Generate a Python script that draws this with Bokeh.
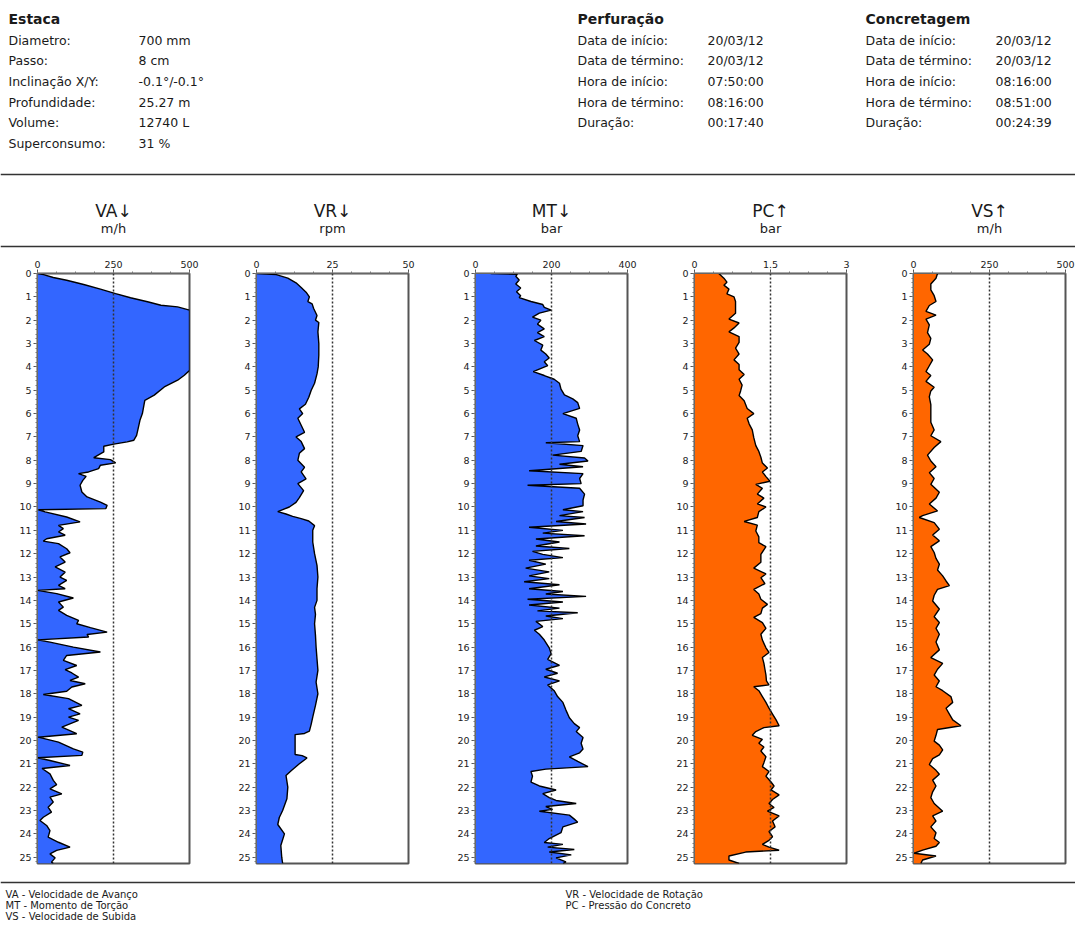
from bokeh.plotting import figure
from bokeh.models import Range1d, Span, FixedTicker
from bokeh.layouts import column, row
from bokeh.embed import file_html
from bokeh.resources import INLINE
from bokeh.core.properties import value

FONT = "DejaVu Sans"
TXT = "#1a1a1a"
BLUE = "#3366FF"
ORANGE = "#FF6600"

# ---------------- header texts ----------------
estaca_title = "Estaca"
estaca_labels = ["Diametro:", "Passo:", "Inclinação X/Y:", "Profundidade:", "Volume:", "Superconsumo:"]
estaca_values = ["700 mm", "8 cm", "-0.1°/-0.1°", "25.27 m", "12740 L", "31 %"]
perf_title = "Perfuração"
perf_labels = ["Data de início:", "Data de término:", "Hora de início:", "Hora de término:", "Duração:"]
perf_values = ["20/03/12", "20/03/12", "07:50:00", "08:16:00", "00:17:40"]
conc_title = "Concretagem"
conc_labels = ["Data de início:", "Data de término:", "Hora de início:", "Hora de término:", "Duração:"]
conc_values = ["20/03/12", "20/03/12", "08:16:00", "08:51:00", "00:24:39"]

legend_left = ["VA - Velocidade de Avanço", "MT - Momento de Torção", "VS - Velocidade de Subida"]
legend_right = ["VR - Velocidade de Rotação", "PC - Pressão do Concreto"]

DEPTH_MAX = 25.27

# ---------------- series ----------------
va_depth = [0, 0.05, 0.17, 0.29, 0.47, 0.67, 0.86, 1.04, 1.21, 1.36, 1.43, 1.57, 4.0, 4.15, 4.36, 4.57, 4.86,
            5.21, 5.43, 5.57, 6.0, 6.29, 6.64, 6.93, 7.14, 7.21, 7.31, 7.4, 7.64, 7.89, 7.97, 8.11, 8.21, 8.36,
            8.5, 8.57, 8.69, 8.86, 9.07, 9.36, 9.57, 9.79, 9.93, 10.07, 10.12, 10.21, 10.43, 10.64, 10.79,
            10.93, 11.07, 11.21, 11.36, 11.46, 11.57, 11.79, 11.96, 12.14, 12.36, 12.57, 12.79, 13.0, 13.14,
            13.36, 13.5, 13.57, 13.71, 13.9, 14.07, 14.29, 14.43, 14.64, 14.86, 15.0, 15.17, 15.36, 15.46,
            15.57, 15.69, 15.79, 16.0, 16.21, 16.36, 16.57, 16.79, 16.97, 17.11, 17.29, 17.43, 17.57, 17.71,
            17.89, 18.03, 18.21, 18.5, 18.64, 18.86, 19.0, 19.14, 19.43, 19.71, 19.86, 20.07, 20.36, 20.5,
            20.64, 20.74, 20.86, 21.07, 21.2, 21.43, 21.71, 21.89, 22.07, 22.29, 22.43, 22.64, 22.86, 23.07,
            23.29, 23.43, 23.64, 23.86, 24.14, 24.36, 24.57, 24.71, 24.86, 25.03, 25.21, 25.27]
va_values = [0, 20, 52, 96, 152, 207, 257, 306, 362, 406, 461, 500, 500, 500, 483, 461, 417,
             384, 353, 351, 345, 337, 331, 326, 317, 295, 251, 218, 218, 185, 240, 257, 207, 201,
             168, 135, 160, 149, 140, 146, 163, 207, 229, 225, 3, 25, 96, 140, 69,
             85, 69, 91, 30, 19, 69, 96, 107, 74, 91, 58, 91, 74, 96,
             69, 91, 0, 63, 118, 69, 85, 69, 96, 135, 129, 174, 229, 163,
             168, 0, 41, 118, 207, 96, 85, 129, 91, 113, 135, 107, 157, 113,
             96, 19, 102, 146, 102, 140, 102, 135, 80, 129, 2, 69, 118, 149,
             146, 0, 41, 107, 15, 41, 52, 63, 41, 80, 41, 52, 35, 46,
             19, 8, 30, 41, 35, 69, 107, 63, 41, 58, 46, 52]

vr_depth = [0, 0.05, 0.2, 0.4, 0.6, 0.8, 1.0, 1.2, 1.3, 1.5, 1.8, 2.0, 2.1, 2.5, 3.0, 3.5, 4.0, 4.3, 4.7, 5.0,
            5.3, 5.6, 5.8, 6.0, 6.2, 6.5, 6.8, 7.0, 7.2, 7.5, 7.7, 8.0, 8.3, 8.5, 8.8, 9.0, 9.3, 9.6, 9.8, 10.0,
            10.2, 10.3, 10.4, 10.5, 10.6, 10.8, 11.0, 11.5, 12.0, 12.5, 13.0, 13.5, 14.0, 14.3, 14.6, 15.0,
            15.5, 16.0, 16.5, 17.0, 17.5, 18.0, 18.5, 19.0, 19.3, 19.6, 19.7, 19.75, 20.6, 20.65, 20.75, 21.0,
            21.3, 21.5, 22.0, 22.5, 23.0, 23.3, 23.6, 24.0, 24.5, 25.0, 25.27]
vr_values = [0, 6.5, 10.3, 13, 14.7, 16.3, 17.4, 16.9, 18.3, 18.8, 19.9, 19.4, 20.5, 20.2, 20.5, 20.5, 20.3, 19.9, 19.1, 18,
             17.2, 16.1, 14.1, 15.2, 13.6, 14.7, 15.8, 13, 14.7, 15.8, 14.1, 13.6, 15.8, 14.7, 16.3, 13.6, 15.5, 14.1, 13, 10.8,
             7, 9.7, 11.9, 14.7, 17.2, 19.1, 18.5, 18.5, 19.1, 19.9, 20.2, 19.9, 19.9, 19.1, 19.4, 19.1,
             19.4, 19.6, 19.9, 20.2, 19.6, 20.2, 19.4, 18.5, 18, 17.4, 15.8, 12.7, 12.7, 15, 16.6, 14.1,
             11.4, 9.7, 10.3, 10, 8.6, 7.5, 7, 9.2, 8, 8.3, 8.6]

mt_depth = [0, 0.03, 0.12, 0.28, 0.45, 0.62, 0.78, 0.95, 1.03, 1.2, 1.33, 1.45, 1.57, 1.7, 1.87, 2.0, 2.17, 2.37,
            2.53, 2.7, 2.87, 3.07, 3.28, 3.45, 3.62, 3.78, 3.95, 4.2, 4.37, 4.53, 4.7, 4.95, 5.2, 5.37, 5.53, 5.78,
            6.0, 6.2, 6.45, 6.7, 6.95, 7.2, 7.25, 7.37, 7.62, 7.78, 7.9, 8.03, 8.17, 8.28, 8.45, 8.57, 8.78, 9.0,
            9.07, 9.2, 9.45, 9.7, 9.95, 10.12, 10.2, 10.37, 10.45, 10.62, 10.73, 10.87, 11.0, 11.12, 11.23,
            11.37, 11.5, 11.67, 11.78, 11.9, 12.03, 12.17, 12.28, 12.45, 12.62, 12.78, 12.95, 13.07, 13.2,
            13.33, 13.5, 13.62, 13.73, 13.83, 13.95, 14.07, 14.2, 14.33, 14.45, 14.53, 14.67, 14.78, 14.9,
            15.12, 15.28, 15.45, 15.7, 16.03, 16.28, 16.53, 16.78, 16.95, 17.12, 17.28, 17.45, 17.62, 17.87,
            18.12, 18.37, 18.7, 19.03, 19.28, 19.45, 19.62, 19.87, 20.12, 20.37, 20.53, 20.7, 20.9, 21.12,
            21.23, 21.33, 21.53, 21.78, 21.95, 22.12, 22.28, 22.45, 22.57, 22.7, 22.83, 22.95, 23.03, 23.2,
            23.37, 23.5, 23.7, 23.95, 24.2, 24.37, 24.45, 24.57, 24.67, 24.78, 24.9, 25.03, 25.2, 25.27]
mt_values = [40, 110, 106, 115, 106, 119, 108, 119, 115, 146, 177, 181, 199, 168, 150, 172, 163, 181,
             163, 181, 155, 177, 172, 185, 194, 181, 190, 152, 181, 207, 221, 225, 234, 256, 269, 274,
             230, 265, 269, 274, 269, 274, 185, 283, 278, 203, 287, 296, 221, 283, 141, 283, 274, 278,
             137, 274, 287, 283, 283, 230, 283, 221, 287, 212, 291, 141, 230, 177, 287,
             159, 221, 159, 247, 150, 177, 230, 141, 185, 132, 194, 141, 194, 128,
             221, 141, 230, 185, 291, 137, 230, 141, 221, 163, 269, 185, 230, 159,
             177, 155, 168, 181, 194, 199, 190, 221, 185, 216, 181, 221, 190, 207,
             216, 230, 238, 247, 260, 274, 265, 283, 278, 283, 274, 247, 269, 296,
             185, 146, 150, 146, 168, 212, 177, 194, 212, 265, 185, 203, 168, 247,
             260, 269, 230, 225, 194, 181, 230, 190, 260, 194, 252, 212, 238, 230]

pc_depth = [0, 0.2, 0.37, 0.5, 0.67, 0.87, 1.0, 1.2, 1.7, 1.95, 2.12, 2.33, 2.5, 2.7, 2.95, 3.2, 3.45, 3.7, 3.9,
            4.12, 4.33, 4.53, 4.78, 5.03, 5.23, 5.45, 5.78, 6.0, 6.2, 6.45, 6.7, 7.03, 7.37, 7.62, 7.87, 8.12,
            8.33, 8.5, 8.7, 8.9, 9.03, 9.2, 9.45, 9.62, 9.87, 10.0, 10.2, 10.45, 10.62, 10.78, 11.03, 11.28,
            11.53, 11.7, 12.03, 12.37, 12.62, 12.87, 13.03, 13.28, 13.53, 13.73, 13.95, 14.17, 14.33, 14.57,
            14.73, 14.95, 15.2, 15.45, 15.7, 16.03, 16.23, 16.45, 16.7, 16.95, 17.2, 17.45, 17.62, 17.7,
            17.87, 18.12, 18.37, 18.62, 18.87, 19.12, 19.37, 19.45, 19.62, 19.78, 19.95, 20.12, 20.28, 20.45,
            20.7, 20.95, 21.12, 21.33, 21.53, 21.78, 21.95, 22.12, 22.33, 22.53, 22.7, 22.87, 23.03, 23.23,
            23.45, 23.7, 23.9, 24.12, 24.28, 24.45, 24.57, 24.7, 24.78, 24.95, 25.12, 25.27]
pc_values = [0.48, 0.58, 0.64, 0.58, 0.68, 0.64, 0.78, 0.81, 0.81, 0.68, 0.88, 0.78, 0.68, 0.88, 0.88, 0.81, 0.88, 0.78, 0.88,
             0.88, 0.98, 0.88, 0.94, 0.91, 0.88, 0.98, 1.04, 1.17, 1.04, 1.08, 1.14, 1.17, 1.21, 1.27, 1.31, 1.34,
             1.44, 1.34, 1.41, 1.49, 1.21, 1.34, 1.24, 1.37, 1.24, 1.41, 1.27, 1.24, 0.98, 1.24, 1.21, 1.27,
             1.27, 1.41, 1.31, 1.31, 1.17, 1.41, 1.31, 1.39, 1.17, 1.27, 1.31, 1.44, 1.34, 1.31,
             1.17, 1.34, 1.41, 1.31, 1.34, 1.41, 1.47, 1.34, 1.37, 1.39, 1.41, 1.42, 1.47, 1.17,
             1.27, 1.34, 1.41, 1.47, 1.54, 1.61, 1.67, 1.37, 1.21, 1.14, 1.34, 1.27, 1.37, 1.31,
             1.41, 1.37, 1.34, 1.47, 1.41, 1.51, 1.57, 1.51, 1.67, 1.54, 1.47, 1.57, 1.44, 1.67,
             1.54, 1.59, 1.47, 1.54, 1.47, 1.34, 1.47, 1.67, 1.01, 0.68, 0.68, 0.88]

vs_depth = [0, 0.2, 0.45, 0.7, 0.95, 1.2, 1.37, 1.62, 1.78, 1.95, 2.2, 2.53, 2.78, 3.03, 3.28, 3.45, 3.7, 3.95,
            4.2, 4.37, 4.62, 4.87, 5.03, 5.28, 5.62, 6.03, 6.37, 6.7, 6.95, 7.2, 7.45, 7.78, 8.03, 8.28, 8.53,
            8.78, 9.03, 9.37, 9.62, 9.87, 10.17, 10.37, 10.45, 10.67, 10.95, 11.2, 11.45, 11.7, 11.95, 12.2,
            12.45, 12.7, 12.95, 13.17, 13.37, 13.53, 13.78, 14.03, 14.37, 14.7, 14.95, 15.2, 15.45, 15.78,
            16.12, 16.45, 16.7, 16.95, 17.2, 17.45, 17.7, 17.87, 18.12, 18.37, 18.62, 18.87, 19.12, 19.37,
            19.53, 19.78, 20.03, 20.2, 20.4, 20.62, 20.78, 21.03, 21.28, 21.45, 21.7, 21.95, 22.2, 22.45,
            22.7, 23.03, 23.23, 23.45, 23.7, 23.95, 24.2, 24.37, 24.53, 24.7, 24.83, 24.95, 25.12, 25.27]
vs_values = [79, 74, 57, 57, 68, 74, 52, 41, 74, 41, 52, 46, 57, 52, 30, 46, 63, 52,
             41, 57, 41, 68, 57, 52, 57, 57, 57, 68, 57, 90, 68, 46, 57, 74, 52,
             68, 57, 85, 74, 52, 79, 30, 19, 68, 85, 63, 85, 57, 68, 74,
             85, 79, 96, 107, 118, 79, 68, 63, 85, 68, 85, 74, 85, 74,
             85, 57, 96, 79, 68, 85, 74, 96, 123, 129, 107, 118, 129, 156,
             79, 74, 68, 85, 96, 85, 63, 52, 74, 85, 63, 74, 63, 57,
             68, 96, 63, 74, 57, 74, 68, 85, 74, 30, 2, 74, 30, 24]

panel_names = ["VA↓", "VR↓", "MT↓", "PC↑", "VS↑"]
panel_units = ["m/h", "rpm", "bar", "bar", "m/h"]
panel_max = [500, 50, 400, 3, 500]
panel_tick_labels = [["0", "250", "500"], ["0", "25", "50"], ["0", "200", "400"], ["0", "1.5", "3"], ["0", "250", "500"]]
panel_colors = [BLUE, BLUE, BLUE, ORANGE, ORANGE]
panel_series = [(va_depth, va_values), (vr_depth, vr_values), (mt_depth, mt_values),
                (pc_depth, pc_values), (vs_depth, vs_values)]

W = 1075
HDR_H = 250
PANEL_TOP = 23
FRAME_H = 590
PANEL_BOTTOM = 2
PANEL_H = PANEL_TOP + FRAME_H + PANEL_BOTTOM
FTR_H = 922 - HDR_H - PANEL_H
PERIOD = 219
FRAME_L = 37
FRAME_W = 152


def blank(width, height):
    f = figure(width=width, height=height, x_range=Range1d(0, width), y_range=Range1d(height, 0),
               x_axis_type=None, y_axis_type=None, output_backend="svg", toolbar_location=None,
               min_border=0, outline_line_color=None)
    f.grid.visible = False
    return f


def texts(f, xs, ys, labels, size, bold=False, align="left"):
    f.text(x=xs, y=ys, text=labels, text_font=value(FONT), text_font_size=size,
           text_font_style="bold" if bold else "normal", text_color=TXT,
           text_baseline="middle", text_align=align)


# ---------------- header ----------------
hdr = blank(W, HDR_H)
row_y = [40, 60, 81, 102, 122, 143]
for x0, xv, title, labs, vals in [(8, 138, estaca_title, estaca_labels, estaca_values),
                                  (577, 707, perf_title, perf_labels, perf_values),
                                  (865, 995, conc_title, conc_labels, conc_values)]:
    texts(hdr, [x0], [18], [title], "14px", bold=True)
    texts(hdr, [x0] * len(labs), row_y[:len(labs)], labs, "12.5px")
    texts(hdr, [xv] * len(vals), row_y[:len(vals)], vals, "12.5px")

centers = [FRAME_L + FRAME_W / 2 + PERIOD * i for i in range(5)]
texts(hdr, centers, [210] * 5, panel_names, "17px", align="center")
texts(hdr, centers, [228] * 5, panel_units, "13px", align="center")
hdr.add_layout(Span(location=174, dimension="width", line_color="#333333", line_width=1.5))
hdr.add_layout(Span(location=246, dimension="width", line_color="#333333", line_width=1.5))


# ---------------- panels ----------------
def make_panel(i):
    last = i == 4
    xmax = panel_max[i]
    depth, vals = panel_series[i]
    w = W - PERIOD * 4 if last else PERIOD
    p = figure(width=w, height=PANEL_H, x_range=Range1d(0, xmax), y_range=Range1d(DEPTH_MAX, 0),
               x_axis_location="above", output_backend="svg", toolbar_location=None,
               min_border_left=FRAME_L, min_border_right=w - FRAME_L - FRAME_W,
               min_border_top=PANEL_TOP, min_border_bottom=PANEL_BOTTOM)
    p.grid.visible = False
    p.outline_line_color = "#555555"
    p.outline_line_width = 2
    p.harea(x1=0, x2=vals, y=depth, fill_color=panel_colors[i], fill_alpha=1)
    p.line(vals, depth, line_color="black", line_width=1.4)
    p.add_layout(Span(location=xmax / 2, dimension="height", line_dash="2 2",
                      line_color="#333333", line_width=1.5))
    ticks = [0, xmax / 2, xmax]
    p.xaxis.ticker = FixedTicker(ticks=ticks, minor_ticks=[xmax * k / 8 for k in range(9)])
    p.xaxis.major_label_overrides = {t: s for t, s in zip(ticks, panel_tick_labels[i])}
    p.yaxis.ticker = FixedTicker(ticks=list(range(26)), minor_ticks=[k * 0.2 for k in range(127)])
    for ax in (p.xaxis, p.yaxis):
        ax.major_label_text_font = FONT
        ax.major_label_text_font_size = "9.5px"
        ax.major_label_text_color = TXT
        ax.axis_line_color = "#666666"
        ax.major_tick_line_color = "#555555"
        ax.minor_tick_line_color = "#777777"
        ax.major_tick_in = 0
        ax.major_tick_out = 4
        ax.minor_tick_in = 0
        ax.minor_tick_out = 2
        ax.major_label_standoff = 2
    return p


panels = [make_panel(i) for i in range(5)]

# ---------------- footer ----------------
ftr = blank(W, FTR_H)
ftr.add_layout(Span(location=17, dimension="width", line_color="#333333", line_width=1.5))
texts(ftr, [5] * 3, [28.5, 39.8, 51], legend_left, "10px")
texts(ftr, [565] * 2, [28.5, 39.8], legend_right, "10px")

layout = column(hdr, row(*panels), ftr)
open("out.html", "w").write(file_html(layout, INLINE))
